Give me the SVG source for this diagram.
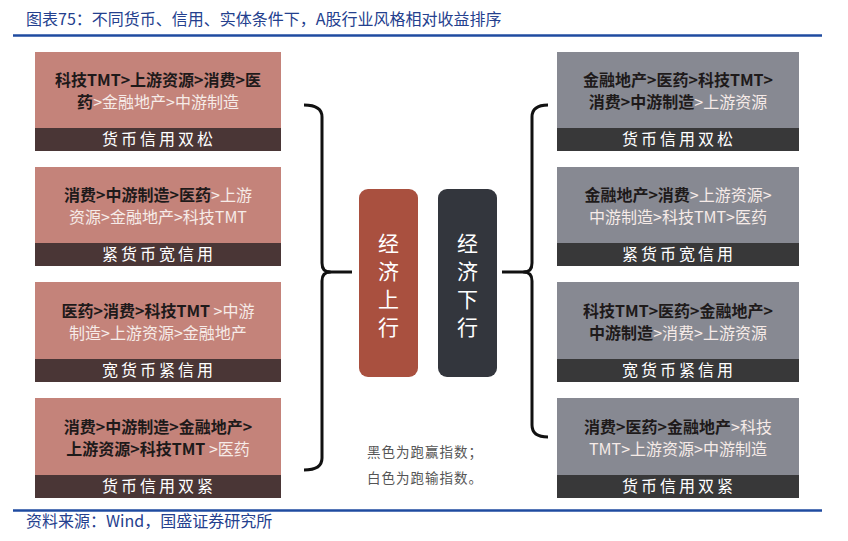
<svg xmlns="http://www.w3.org/2000/svg" width="848" height="541" viewBox="0 0 848 541">
<style>
.cap{font-family:"Noto Sans CJK SC","Liberation Sans",sans-serif;fill:#24408E;font-size:16px}
.t{font-family:"Noto Sans CJK SC",sans-serif;font-size:16px;text-anchor:middle}
.b{fill:#1e1a1a;font-weight:bold}
.w{fill:#f6ebe8}
.band{font-family:"Noto Sans CJK SC",sans-serif;font-size:16px;fill:#ffffff;text-anchor:middle;letter-spacing:3px}
.pk{fill:#C4837A}
.pb{fill:#4A3636}
.gy{fill:#878992}
.gb{fill:#383839}
.br{fill:none;stroke:#111;stroke-width:3;stroke-linejoin:round}
.vt{font-family:"Noto Sans CJK SC",sans-serif;font-size:21px;fill:#fff;text-anchor:middle}
.note{font-family:"Noto Sans CJK SC",serif;font-size:13.5px;fill:#555;letter-spacing:1px}
</style>
<rect width="848" height="541" fill="#fff"/>
<text class="cap" x="26" y="25">图表75：不同货币、信用、实体条件下，A股行业风格相对收益排序</text>
<line x1="13" y1="35.5" x2="822" y2="35.5" stroke="#1F4BA0" stroke-width="2.5"/>

<g id="L1"><rect class="pk" x="35" y="52" width="246" height="76"/><rect class="pb" x="35" y="128" width="246" height="23"/>
<text class="t"><tspan x="158" y="86" class="b">科技TMT&gt;上游资源&gt;消费&gt;医</tspan><tspan x="158" y="108" class="b">药</tspan><tspan class="w">&gt;金融地产&gt;中游制造</tspan></text>
<text class="band" x="159" y="145">货币信用双松</text></g>

<g id="L2"><rect class="pk" x="35" y="167" width="246" height="76"/><rect class="pb" x="35" y="243" width="246" height="23"/>
<text class="t"><tspan x="158" y="201" class="b">消费&gt;中游制造&gt;医药</tspan><tspan class="w">&gt;上游</tspan><tspan x="158" y="223" class="w">资源&gt;金融地产&gt;科技TMT</tspan></text>
<text class="band" x="159" y="260">紧货币宽信用</text></g>

<g id="L3"><rect class="pk" x="35" y="282" width="246" height="77"/><rect class="pb" x="35" y="359" width="246" height="23"/>
<text class="t"><tspan x="158" y="317" class="b">医药&gt;消费&gt;科技TMT</tspan><tspan class="w"> &gt;中游</tspan><tspan x="158" y="339" class="w">制造&gt;上游资源&gt;金融地产</tspan></text>
<text class="band" x="159" y="376">宽货币紧信用</text></g>

<g id="L4"><rect class="pk" x="35" y="398" width="246" height="77"/><rect class="pb" x="35" y="475" width="246" height="23"/>
<text class="t"><tspan x="158" y="433" class="b">消费&gt;中游制造&gt;金融地产&gt;</tspan><tspan x="158" y="455" class="b">上游资源&gt;科技TMT</tspan><tspan class="w"> &gt;医药</tspan></text>
<text class="band" x="159" y="492">货币信用双紧</text></g>

<g id="R1"><rect class="gy" x="557" y="52" width="242" height="76"/><rect class="gb" x="557" y="128" width="242" height="23"/>
<text class="t"><tspan x="678" y="86" class="b">金融地产&gt;医药&gt;科技TMT&gt;</tspan><tspan x="678" y="108" class="b">消费&gt;中游制造</tspan><tspan class="w">&gt;上游资源</tspan></text>
<text class="band" x="679" y="145">货币信用双松</text></g>

<g id="R2"><rect class="gy" x="557" y="167" width="242" height="76"/><rect class="gb" x="557" y="243" width="242" height="23"/>
<text class="t"><tspan x="678" y="201" class="b">金融地产&gt;消费</tspan><tspan class="w">&gt;上游资源&gt;</tspan><tspan x="678" y="223" class="w">中游制造&gt;科技TMT&gt;医药</tspan></text>
<text class="band" x="679" y="260">紧货币宽信用</text></g>

<g id="R3"><rect class="gy" x="557" y="282" width="242" height="77"/><rect class="gb" x="557" y="359" width="242" height="23"/>
<text class="t"><tspan x="678" y="317" class="b">科技TMT&gt;医药&gt;金融地产&gt;</tspan><tspan x="678" y="339" class="b">中游制造</tspan><tspan class="w">&gt;消费&gt;上游资源</tspan></text>
<text class="band" x="679" y="376">宽货币紧信用</text></g>

<g id="R4"><rect class="gy" x="557" y="398" width="242" height="77"/><rect class="gb" x="557" y="475" width="242" height="23"/>
<text class="t"><tspan x="678" y="433" class="b">消费&gt;医药&gt;金融地产</tspan><tspan class="w">&gt;科技</tspan><tspan x="678" y="455" class="w">TMT&gt;上游资源&gt;中游制造</tspan></text>
<text class="band" x="679" y="492">货币信用双紧</text></g>

<g id="up"><rect x="359" y="189" width="59" height="188" rx="9" fill="#A9503F"/>
<text class="vt"><tspan x="388.5" y="251">经</tspan><tspan x="388.5" y="279">济</tspan><tspan x="388.5" y="307">上</tspan><tspan x="388.5" y="335">行</tspan></text></g>

<g id="down"><rect x="438" y="189" width="59" height="188" rx="9" fill="#33363D"/>
<text class="vt"><tspan x="467.5" y="251">经</tspan><tspan x="467.5" y="279">济</tspan><tspan x="467.5" y="307">下</tspan><tspan x="467.5" y="335">行</tspan></text></g>

<g id="connectors">
<path class="br" d="M304,105 Q322,105 322,117 V263 Q322,272 330,272 Q322,272 322,281 V458 Q322,470 304,470"/>
<line class="br" x1="328" y1="272" x2="352" y2="272"/>
<path class="br" d="M548,105 Q532,105 532,117 V263 Q532,272 524,272 Q532,272 532,281 V425 Q532,437 548,437"/>
<line class="br" x1="502" y1="272" x2="526" y2="272"/>
</g>

<text class="note"><tspan x="367" y="457">黑色为跑赢指数；</tspan><tspan x="367" y="483">白色为跑输指数。</tspan></text>

<line x1="13" y1="510.5" x2="822" y2="510.5" stroke="#1F4BA0" stroke-width="2.5"/>
<text class="cap" x="26" y="527">资料来源：Wind，国盛证券研究所</text>
</svg>
